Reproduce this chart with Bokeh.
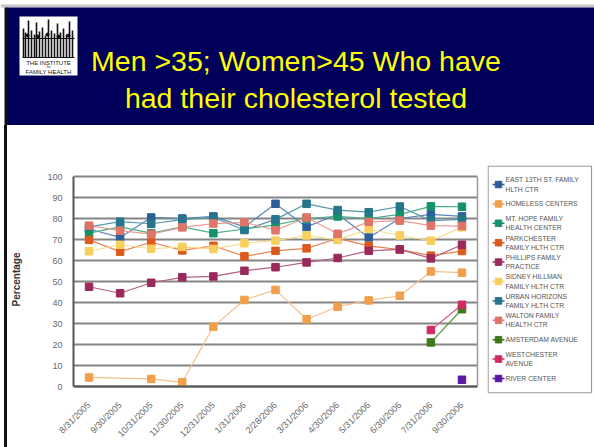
from math import pi
from bokeh.plotting import figure
from bokeh.models import Range1d, FactorRange, Div, LinearAxis, Span
from bokeh.layouts import column, row
from bokeh.embed import file_html
from bokeh.resources import INLINE
from bokeh.core.properties import value

# ---------------- data ----------------
dates = ["8/31/2005", "9/30/2005", "10/31/2005", "11/30/2005", "12/31/2005",
         "1/31/2006", "2/28/2006", "3/31/2006", "4/30/2006", "5/31/2006",
         "6/30/2006", "7/31/2006", "9/30/2006"]

N = None
east13 = [75, 71, 80.5, 80, 81, 76, 87, 76, 82, 71, 80, 82, 81]
homeless = [4.3, N, 3.6, 2, 28.5, 41.2, 46, 32, 38, 41, 43.2, 54.8, 54.2]
mthope = [73, 76, 73, 76, 73, 75, 77, 80, 81, 80, 82, 85.8, 85.6]
parkchester = [69.8, 64.2, 68.7, 64.8, 67, 62, 64.6, 65.8, 70.5, 67, 65.2, 62.3, 64.5]
phillips = [47.5, 44.4, 49.4, 52, 52.4, 55.1, 56.8, 59.1, 61.2, 64.6, 65.3, 61, 67.5]
sidney = [64.4, 67.5, 65.6, 66.5, 65.5, 68.2, 69.5, 71.9, 69.8, 75, 71.9, 69.4, 75.8]
urban = [76, 78.5, 77.5, 79.5, 80.5, 74.5, 79.6, 87, 84, 83, 85.7, 79, 79.6]
walton = [76.6, 74.2, 72.6, 75.8, 77.6, 78.2, 74.4, 80.5, 72.7, 78.4, 79, 76.6, 76.4]
amsterdam = [N, N, N, N, N, N, N, N, N, N, N, 21, 36.8]
westchester = [N, N, N, N, N, N, N, N, N, N, N, 26.9, 38.9]
river = [N, N, N, N, N, N, N, N, N, N, N, N, 3.2]

series_names = ["EAST 13TH ST. FAMILY\nHLTH CTR", "HOMELESS CENTERS",
                "MT. HOPE FAMILY\nHEALTH CENTER", "PARKCHESTER\nFAMILY HLTH CTR",
                "PHILLIPS FAMILY\nPRACTICE", "SIDNEY HILLMAN\nFAMILY HLTH CTR",
                "URBAN HORIZONS\nFAMILY HLTH CTR", "WALTON FAMILY\nHEALTH CTR",
                "AMSTERDAM AVENUE", "WESTCHESTER\nAVENUE", "RIVER CENTER"]
series_values = [east13, homeless, mthope, parkchester, phillips, sidney,
                 urban, walton, amsterdam, westchester, river]
marker_colors = ["#2C5F9A", "#F0A04C", "#14936A", "#DC5A1E", "#9A2A5C", "#F8CE5C",
                 "#25768C", "#E07468", "#3D7A1E", "#D02A5E", "#5A18A6"]
line_colors = ["#5A86B8", "#F6C08E", "#4DAE8A", "#E68456", "#B45E86", "#F9DC8C",
               "#5898AA", "#EA9C94", "#5E9240", "#DC5C84", "#7A48B8"]

title_lines = ["Men >35; Women>45 Who have", "had their cholesterol tested"]
y_ticks = [0, 10, 20, 30, 40, 50, 60, 70, 80, 90, 100]
y_label = "Percentage"

ARIAL = "Liberation Sans"
NAVY = "#00005A"

# ---------------- header ----------------
W = 594
HH = 125
head = figure(width=W, height=HH, x_range=Range1d(0, W), y_range=Range1d(HH, 0),
              output_backend="svg", toolbar_location=None, min_border=0)
head.axis.visible = False
head.grid.visible = False
head.outline_line_color = None
head.background_fill_color = "white"
head.border_fill_color = "white"
head.quad(left=[0], right=[W], top=[4], bottom=[7], fill_color="#c8c8c8", line_color=None)
head.quad(left=[6], right=[W], top=[7], bottom=[HH], fill_color=NAVY, line_color=None)
head.quad(left=[4], right=[7], top=[7], bottom=[HH], fill_color="#111111", line_color=None)

head.text(x=[295.5, 295.5], y=[60, 97], text=title_lines, text_color="#FFFF00",
          text_font=value(ARIAL), text_font_size="28.5px", text_align="center",
          text_baseline="alphabetic")

# logo (decorative)
head.quad(left=[19], right=[77], top=[16], bottom=[75], fill_color="white", line_color=None)
logo_x = [23, 25, 28, 31, 34, 36, 39, 42, 45, 48, 51, 54, 57, 60, 63, 66, 69, 72]
logo_top = [28, 32, 20, 30, 34, 22, 31, 27, 35, 19, 30, 33, 23, 32, 28, 34, 21, 30]
head.segment(x0=logo_x, y0=logo_top, x1=logo_x, y1=[57] * len(logo_x),
             line_color="#111111", line_width=1.6)
head.segment(x0=[22, 22], y0=[38, 57], x1=[74, 74], y1=[38, 57], line_color="#111111", line_width=1.2)
head.scatter(x=[27, 37, 47, 58, 68], y=[35, 36, 34, 36, 35], marker="circle", size=3,
             color="#111111")
head.text(x=[48, 48, 48], y=[62, 66.5, 71], text=["THE INSTITUTE", "for", "FAMILY HEALTH"],
          text_color="#222222", text_font=value(ARIAL),
          text_font_size=["6px", "3.5px", "6px"], text_align="center", text_baseline="middle")

# ---------------- chart row geometry (page pixels) ----------------
CH = 447 - HH
SW = 8                       # left black strip
FL, FR = 69, 477             # plot-area left / right
Y100, Y0 = 176, 386          # pixel rows of 100 % and 0 %
BOX_T, BOX_B = 165, 393      # legend box top / bottom (also frame extent)
LEG_L = 487
px_per_unit = (Y0 - Y100) / 100.0
y_top = 100 + (Y100 - BOX_T) / px_per_unit
y_bot = 0 - (BOX_B - Y0) / px_per_unit
top_border = BOX_T - HH
bottom_border = (HH + CH) - BOX_B

strip = Div(text="", width=3, height=CH, margin=(0, 1, 0, 4),
            styles={"background-color": "#111111"})

PW = LEG_L - SW
p = figure(width=PW, height=CH, x_range=FactorRange(*dates), y_range=Range1d(y_bot, y_top),
           output_backend="svg", toolbar_location=None,
           min_border_left=FL - SW, min_border_right=LEG_L - FR, min_border_top=top_border,
           min_border_bottom=bottom_border)
p.background_fill_color = "white"
p.border_fill_color = "white"
p.outline_line_color = None
p.xgrid.grid_line_color = None
p.ygrid.grid_line_color = "#858585"
p.ygrid.grid_line_width = 1.8
p.yaxis.ticker = y_ticks
p.yaxis.bounds = (0, 100)
p.yaxis.axis_label = y_label
p.yaxis.axis_label_text_font = ARIAL
p.yaxis.axis_label_text_font_style = "bold"
p.yaxis.axis_label_text_font_size = "10px"
p.yaxis.axis_label_text_color = "#333333"
p.yaxis.axis_label_standoff = 22

for ax in (p.xaxis, p.yaxis):
    ax.axis_line_color = "#555555"
    ax.axis_line_width = 2
    ax.major_tick_line_color = None
    ax.minor_tick_line_color = None
    ax.major_label_text_font = ARIAL
    ax.major_label_text_font_size = "9px"
    ax.major_label_text_color = "#6a6a6a"
p.xaxis.axis_line_color = None
p.yaxis.major_label_standoff = 5
p.xaxis.major_label_orientation = pi / 4
p.xaxis.major_label_standoff = 4

# right border of the plot area (0..100 only) and dark base line at 0
right_edge = LinearAxis(ticker=[], bounds=(0, 100), axis_line_color="#9a9a9a",
                        axis_line_width=1.5, major_tick_line_color=None,
                        minor_tick_line_color=None)
p.add_layout(right_edge, "right")
p.add_layout(Span(location=0, dimension="width", line_color="#555555", line_width=2))

for vals, lc in zip(series_values, line_colors):
    xs = [d for d, v in zip(dates, vals) if v is not None]
    ys = [v for v in vals if v is not None]
    if len(xs) > 1:
        p.line(xs, ys, line_color=lc, line_width=1.2)
for vals, mc in zip(series_values, marker_colors):
    xs = [d for d, v in zip(dates, vals) if v is not None]
    ys = [v for v in vals if v is not None]
    p.scatter(xs, ys, marker="square", size=7.5, fill_color=mc, line_color=mc)

# ---------------- legend panel ----------------
LW = W - LEG_L
LH = BOX_B - BOX_T
leg = figure(width=LW, height=CH, x_range=Range1d(0, LW), y_range=Range1d(LH, 0),
             output_backend="svg", toolbar_location=None, min_border_left=0,
             min_border_right=0, min_border_top=top_border, min_border_bottom=bottom_border)
leg.axis.visible = False
leg.grid.visible = False
leg.outline_line_color = None
leg.background_fill_color = "white"
leg.border_fill_color = "white"
leg.quad(left=[0.6], right=[LW - 3], top=[0.6], bottom=[LH - 0.6], fill_color="white",
         line_color="#9a9a9a", line_width=1.2)

n = len(series_names)
pitch = (LH - 34) / (n - 1)
ey = [19 + i * pitch for i in range(n)]
leg.segment(x0=[5] * n, y0=ey, x1=[17] * n, y1=ey, line_color=marker_colors, line_width=1.5)
leg.scatter(x=[11] * n, y=ey, marker="square", size=6.5, fill_color=marker_colors,
            line_color=marker_colors)
tx, ty, tt = [], [], []
for name, y in zip(series_names, ey):
    parts = name.split("\n")
    if len(parts) == 1:
        tx.append(18); ty.append(y); tt.append(parts[0])
    else:
        tx += [18, 18]; ty += [y - 4.6, y + 4.6]; tt += parts
leg.text(x=tx, y=ty, text=tt, text_color="#555555", text_font=value(ARIAL),
         text_font_size="6.8px", text_align="left", text_baseline="middle")

layout = column(head, row(strip, p, leg, spacing=0), spacing=0)
open("out.html", "w").write(file_html(layout, INLINE))
